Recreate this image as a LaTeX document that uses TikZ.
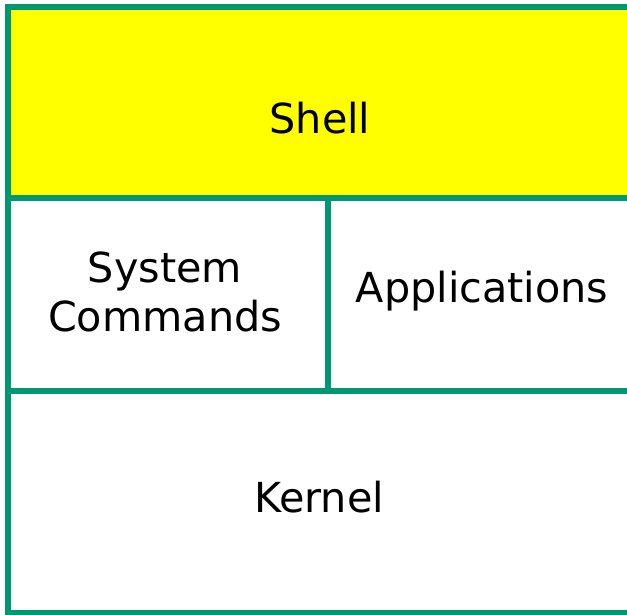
\documentclass[tikz,border=0pt]{standalone}
\usepackage{fontspec}
\setmainfont{DejaVu Sans}
\usetikzlibrary{positioning,calc}
\definecolor{layergreen}{RGB}{0,152,112}
\definecolor{shellyellow}{RGB}{255,255,0}
\tikzset{
	layer/.style={draw=layergreen, line width=4.5pt, rectangle, inner sep=0pt, outer sep=0pt, anchor=north west},
	layertext/.style={font=\fontsize{31}{36.75}\selectfont, anchor=base, align=center, inner sep=0pt}
}
\begin{document}
\begin{tikzpicture}[x=0.75pt,y=-0.75pt]
		\clip (0,0) rectangle (627,614);
		% layers, top to bottom
		\node[layer, fill=shellyellow, minimum width=469.5pt, minimum height=143.25pt] (shell) at (8,7) {};
		\node[layer, minimum width=240pt, minimum height=144.75pt] (syscmd) at (shell.south west) {};
		\node[layer, minimum width=229.5pt, minimum height=144.75pt] (apps) at (syscmd.north east) {};
		\node[layer, minimum width=469.5pt, minimum height=166.5pt] (kernel) at (syscmd.south west) {};
		
		\node[layertext] (shelltxt) at ($(shell.north)+(-1,126)$) {Shell};
		\node[layertext] (syscmdtxt) at ($(syscmd.north)+(-3,133)$) {System\\Commands};
		\node[layertext] (appstxt) at ($(apps.north)+(1,104)$) {Applications};
		\node[layertext] (kerneltxt) at ($(kernel.north)+(-2,121)$) {Kernel};
	\end{tikzpicture}
\end{document}
